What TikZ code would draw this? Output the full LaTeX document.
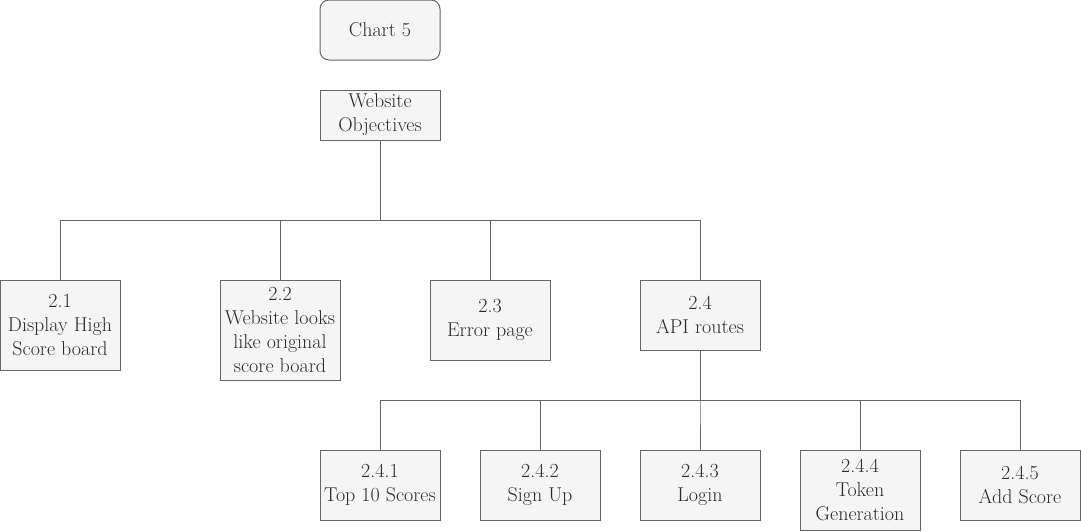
\documentclass[tikz,border=0pt]{standalone}
\definecolor{boxfill}{HTML}{F5F5F5}
\definecolor{boxline}{HTML}{666666}
\definecolor{txt}{HTML}{2B2B2B}
\begin{document}
\begin{tikzpicture}[x=1pt,y=-1pt,
  box/.style={draw=boxline,fill=boxfill,line width=1pt,inner sep=0pt,minimum width=120pt,
    text=txt,align=center,font=\fontsize{20}{24}\selectfont},
  link/.style={draw=boxline,line width=1pt}]
\useasboundingbox (0,0) rectangle (1081,531);
\node[box,rounded corners=9pt,minimum height=60pt] (c5) at (380,30) {Chart 5};
\node[box,minimum height=50pt] (wo) at (380,115) {Website\\Objectives};
\node[box,minimum height=90pt] (n21) at (60,325) {2.1\\Display High\\Score board};
\node[box,minimum height=100pt] (n22) at (280,330) {2.2\\Website looks\\like original\\score board};
\node[box,minimum height=80pt] (n23) at (490,320) {2.3\\Error page};
\node[box,minimum height=70pt] (n24) at (700,315) {2.4\\API routes};
\node[box,minimum height=70pt] (n241) at (380,485) {2.4.1\\Top 10 Scores};
\node[box,minimum height=70pt] (n242) at (540,485) {2.4.2\\Sign Up};
\node[box,minimum height=70pt] (n243) at (700,485) {2.4.3\\Login};
\node[box,minimum height=80pt] (n244) at (860,490) {2.4.4\\Token\\Generation};
\node[box,minimum height=70pt] (n245) at (1020,485) {2.4.5\\Add Score};
\coordinate (busA) at (380,220);
\coordinate (busB) at (700,400);
\foreach \c in {n21,n22,n23,n24}
  \draw[link] (wo.south) -- (wo.south |- busA) -| (\c.north);
\foreach \c in {n241,n242,n243,n244,n245}
  \draw[link] (n24.south) -- (n24.south |- busB) -| (\c.north);
\end{tikzpicture}
\end{document}
